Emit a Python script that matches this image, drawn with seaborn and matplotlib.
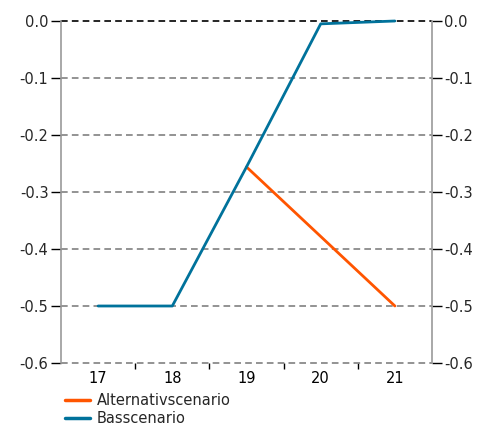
import matplotlib
matplotlib.use("Agg")
import matplotlib.pyplot as plt
import seaborn as sns
import pandas as pd
import numpy as np

years = [17, 18, 19, 20, 21]
bas = [-0.5, -0.5, -0.256, -0.005, 0.0]
alt_years = [19, 20, 21]
alt = [-0.256, -0.378, -0.5]
yticks = [0.0, -0.1, -0.2, -0.3, -0.4, -0.5, -0.6]

sns.set_theme(style="white")
plt.rcParams['font.family'] = ['DejaVu Sans']
plt.rcParams['axes.unicode_minus'] = False

c_alt = '#FF5500'
c_bas = '#00729B'

df_bas = pd.DataFrame({'år': years, 'värde': bas, 'serie': 'Basscenario'})
df_alt = pd.DataFrame({'år': alt_years, 'värde': alt, 'serie': 'Alternativscenario'})
df = pd.concat([df_alt, df_bas], ignore_index=True)

fig = plt.figure(figsize=(4.89, 4.28), dpi=100)
ax = fig.add_axes([61/489, 1-363/428, (432-61)/489, (363-21)/428])

for yv in yticks:
    ax.axhline(yv, color='#000000' if yv == 0 else '#808080', lw=1.2,
               ls=(0, (4, 2.5)), zorder=1)

sns.lineplot(data=df, x='år', y='värde', hue='serie',
             hue_order=['Alternativscenario', 'Basscenario'],
             palette=[c_alt, c_bas], lw=2, ax=ax, legend=False, zorder=3)
for l in ax.lines:
    l.set_clip_on(False)

ax.set_xlim(16.5, 21.5)
ax.set_ylim(-0.6, 0.0)
ax.set_xticks(years)
ax.set_xticklabels([str(y) for y in years])
ax.set_xticks([17.5, 18.5, 19.5, 20.5], minor=True)
ax.tick_params(axis='x', which='major', length=0, pad=6, labelsize=10.5, colors='black')
ax.tick_params(axis='x', which='minor', length=4, width=1, color='#000000', bottom=True)
ax.set_yticks(yticks)
ax.set_yticklabels([f"{v:.1f}" if v != 0 else "0.0" for v in yticks])
ax.tick_params(axis='y', which='major', left=True, right=True, labelleft=True,
               labelright=True, length=7, width=1, color='#000000', labelsize=10.5, pad=2)
ax.set_xlabel('')
ax.set_ylabel('')
for s in ['top', 'bottom']:
    ax.spines[s].set_visible(False)
for s in ['left', 'right']:
    ax.spines[s].set_color('#999999')
    ax.spines[s].set_linewidth(1.2)

from matplotlib.lines import Line2D
handles = [Line2D([], [], color=c_alt, lw=2.5), Line2D([], [], color=c_bas, lw=2.5)]
fig.legend(handles, ['Alternativscenario', 'Basscenario'], loc='upper left',
           bbox_to_anchor=(59/489, 1-387/428), frameon=False, fontsize=10.5,
           handlelength=1.7, handletextpad=0.5, labelspacing=0.22, borderaxespad=0)

fig.savefig('out.png', dpi=100)
